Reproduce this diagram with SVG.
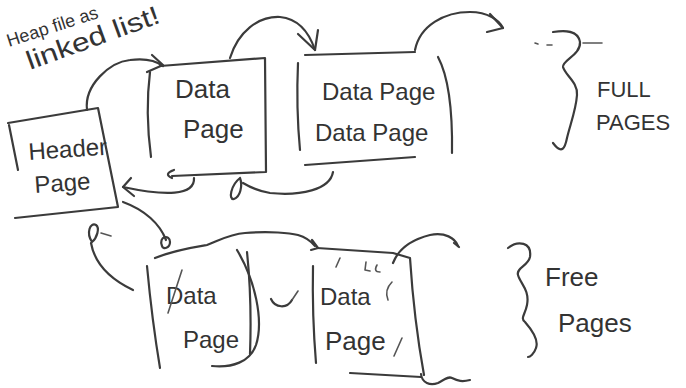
<svg xmlns="http://www.w3.org/2000/svg" width="686" height="388" viewBox="0 0 686 388">
  <style>
    .pen { fill: none; stroke: #3b3b3b; stroke-width: 2.2; stroke-linecap: round; stroke-linejoin: round; }
    .thin { fill: none; stroke: #555; stroke-width: 1.6; stroke-linecap: round; stroke-linejoin: round; }
    .hand { font-family: "Liberation Sans", "DejaVu Sans", sans-serif; fill: #333; }
  </style>
  <rect width="686" height="388" fill="#ffffff"/>

  <!-- heading note -->
  <g id="note">
    <text class="hand" font-size="18" transform="translate(9,47) rotate(-18)" x="0" y="0">Heap file as</text>
    <text class="hand" font-size="26" transform="translate(30,70) rotate(-20)" x="0" y="0" textLength="140" lengthAdjust="spacingAndGlyphs">linked list!</text>
  </g>

  <!-- header page -->
  <g id="header-page">
    <path class="pen" d="M 9 125 L 18 170"/>
    <path class="pen" d="M 8 123 L 98 108 L 118 207 L 15 218"/>
    <text class="hand" font-size="24" transform="rotate(-4 30 160)" x="29" y="160">Header</text>
    <text class="hand" font-size="24" transform="rotate(-4 35 193)" x="35" y="193">Page</text>
  </g>

  <!-- first full data page -->
  <g id="data-page-1">
    <path class="pen" d="M 150 72 Q 145 112 151 157"/>
    <path class="pen" d="M 160 66 L 265 58 L 266 172 L 172 176"/>
    <path class="pen" d="M 174 170 Q 163 174 172 178"/>
    <text class="hand" font-size="26" x="175" y="98">Data</text>
    <text class="hand" font-size="26" x="183" y="138">Page</text>
  </g>

  <!-- second full data page (two pages stacked) -->
  <g id="data-page-2">
    <path class="pen" d="M 298 63 Q 296 108 300 150"/>
    <path class="pen" d="M 305 55 L 415 52"/>
    <path class="pen" d="M 305 165 L 415 157"/>
    <path class="pen" d="M 438 57 Q 453 85 452 153"/>
    <text class="hand" font-size="24" x="322" y="100">Data Page</text>
    <text class="hand" font-size="24" x="315" y="141">Data Page</text>
  </g>

  <!-- full pages brace -->
  <g id="full-pages">
    <path class="pen" d="M 553 32 C 565 30, 578 30, 580 42 C 581 55, 562 60, 563 67 C 565 75, 578 82, 577 95 C 576 110, 570 125, 567 138 C 565 148, 562 155, 553 143"/>
    <path class="thin" d="M 535 43 L 538 44 M 547 45 L 552 45 M 583 43 L 602 43"/>
    <text class="hand" font-size="22" x="597" y="97">FULL</text>
    <text class="hand" font-size="22" x="596" y="130">PAGES</text>
  </g>

  <!-- first free data page -->
  <g id="free-page-1">
    <path class="pen" d="M 147 266 Q 152 320 160 368"/>
    <path class="pen" d="M 237 250 C 255 280, 264 320, 256 345 C 250 362, 232 368, 212 366"/>
    <path class="pen" d="M 247 252 Q 252 300 250 354"/>
    <text class="hand" font-size="24" x="166" y="304">Data</text>
    <path class="thin" d="M 182 270 L 168 313"/>
    <text class="hand" font-size="24" x="183" y="348">Page</text>
  </g>

  <!-- second free data page -->
  <g id="free-page-2">
    <path class="pen" d="M 313 266 Q 312 315 316 363"/>
    <path class="pen" d="M 317 248 L 393 253 L 410 258 Q 414 320 424 375"/>
    <path class="pen" d="M 350 373 L 421 377"/>
    <path class="thin" d="M 340 258 L 336 267 M 366 262 L 365 270 L 370 271 M 377 265 Q 373 272 380 272 M 392 282 Q 384 290 388 300 M 394 356 L 402 338"/>
    <text class="hand" font-size="24" x="320" y="305">Data</text>
    <text class="hand" font-size="26" x="325" y="350">Page</text>
  </g>

  <!-- free pages brace -->
  <g id="free-pages">
    <path class="pen" d="M 508 248 C 518 240, 532 242, 530 257 C 528 266, 516 268, 518 275 C 520 283, 530 290, 527 305 C 525 315, 520 318, 525 322 C 532 330, 539 340, 536 348 C 534 354, 530 357, 528 357"/>
    <text class="hand" font-size="26" x="545" y="286">Free</text>
    <text class="hand" font-size="26" x="558" y="332">Pages</text>
  </g>

  <!-- links between pages -->
  <g id="connectors">
    <!-- header to first data page -->
    <path class="pen" d="M 87 110 C 84 85, 110 62, 130 60 C 145 58, 155 60, 163 66"/>
    <path class="pen" d="M 152 55 L 163 65 L 147 72"/>
    <!-- first data page to second -->
    <path class="pen" d="M 230 58 C 238 32, 258 16, 280 17 C 300 19, 310 35, 315 50"/>
    <path class="pen" d="M 298 34 L 315 50 L 318 30"/>
    <!-- second data page onwards -->
    <path class="pen" d="M 415 50 C 420 25, 445 12, 470 12 C 488 12, 499 20, 503 28"/>
    <path class="pen" d="M 490 14 L 503 28 L 487 32"/>
    <!-- first data page back to header -->
    <path class="pen" d="M 194 178 C 195 196, 165 196, 123 187"/>
    <path class="pen" d="M 131 178 L 123 187 L 134 196"/>
    <!-- second data page back to first -->
    <path class="pen" d="M 333 172 C 330 190, 300 196, 270 193 C 258 191, 248 186, 243 183"/>
    <path class="pen" d="M 240 178 C 231 185, 228 200, 234 199 C 240 197, 243 186, 240 178"/>
    <!-- header to first free page -->
    <path class="pen" d="M 123 202 C 145 210, 160 224, 166 240"/>
    <path class="pen" d="M 162 246 C 158 236, 170 234, 170 242 C 170 248, 163 250, 162 246"/>
    <path class="pen" d="M 91 243 C 95 265, 112 280, 133 290"/>
    <path class="pen" d="M 92 242 C 86 233, 90 222, 96 225 C 100 228, 97 238, 92 242"/>
    <path class="thin" d="M 101 233 L 111 236"/>
    <!-- first free page to second -->
    <path class="pen" d="M 155 258 C 175 250, 195 247, 207 245 C 220 240, 230 234, 245 233 C 270 231, 290 233, 298 235 C 305 237, 310 240, 315 246"/>
    <path class="pen" d="M 312 240 L 318 248 L 311 250"/>
    <!-- second free page onwards -->
    <path class="pen" d="M 393 263 C 398 250, 410 240, 430 235 C 445 232, 455 238, 458 246"/>
    <path class="pen" d="M 454 243 L 459 247"/>
    <!-- scribbles -->
    <path class="pen" d="M 421 374 C 422 383, 430 386, 438 383 C 444 380, 448 376, 452 378 C 458 381, 462 382, 470 380"/>
    <path class="pen" stroke-width="3.5" d="M 271 299 C 275 308, 287 309, 292 300"/>
    <path class="thin" d="M 292 300 L 298 291"/>
  </g>
</svg>
